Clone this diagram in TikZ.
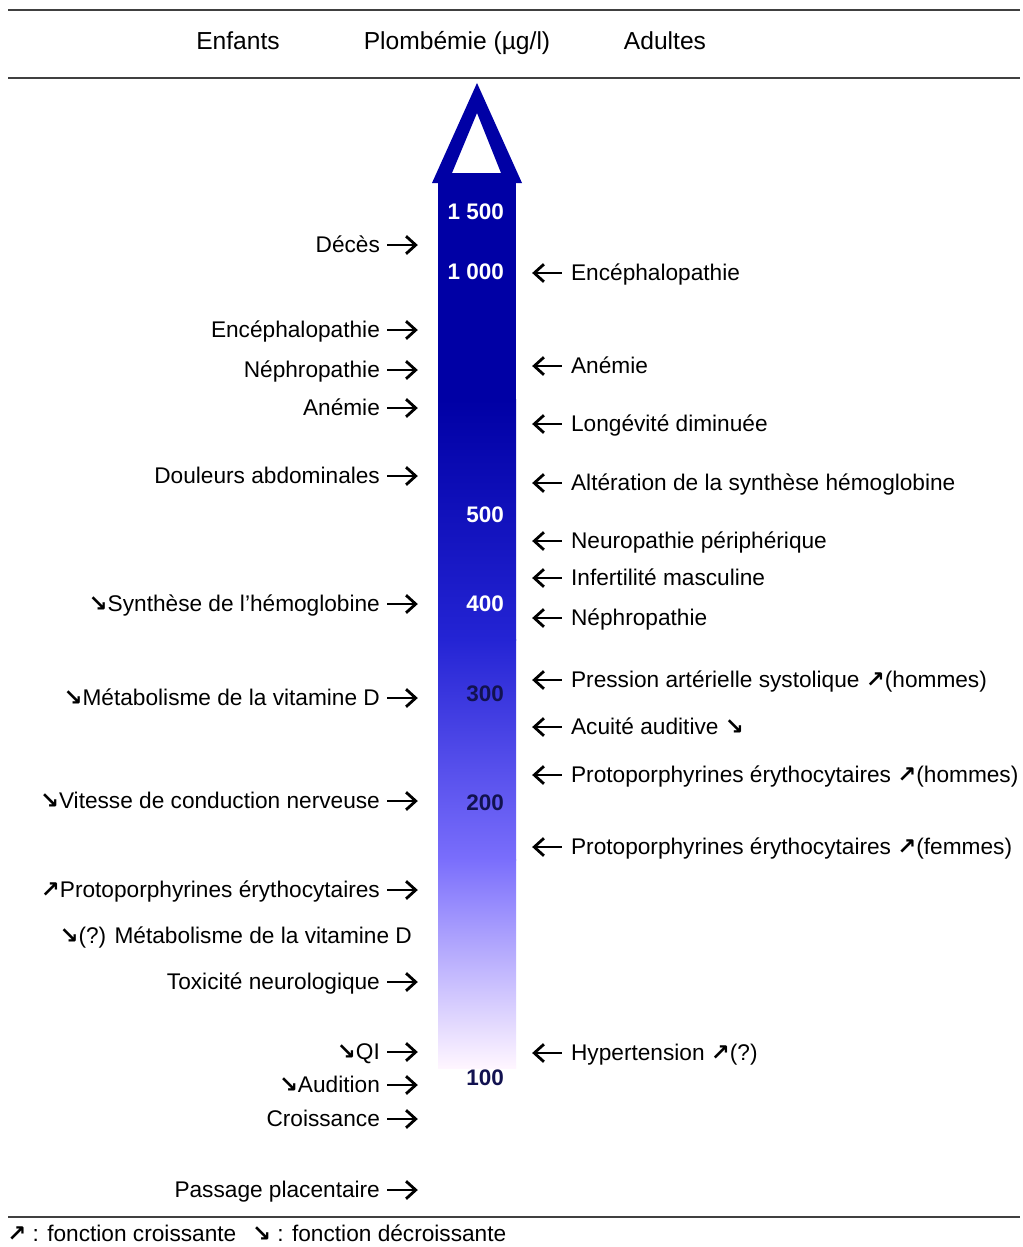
\documentclass[tikz,border=0pt]{standalone}
\usepackage{fontspec}
\setmainfont{Liberation Sans}
\newfontfamily\flechefont{DejaVu Sans}
\usepackage{tikz}
\usetikzlibrary{positioning,fit,arrows.meta}
\definecolor{plomb}{RGB}{0,0,165}
\definecolor{plombB}{RGB}{36,36,212}
\definecolor{plombC}{RGB}{122,110,252}
\definecolor{plombD}{RGB}{255,246,255}
\definecolor{chiffre}{RGB}{18,18,80}
\newcommand{\hausse}{{\flechefont\bfseries ↗}}
\newcommand{\baisse}{{\flechefont\bfseries ↘}}

\begin{document}
\begin{tikzpicture}[
  x=0.02cm, y=-0.02cm,
  every node/.style={font=\fontsize{12.9pt}{15pt}\selectfont, inner sep=1pt, text height=0.86em, text depth=0pt},
  gauche/.style={anchor=east},
  droite/.style={anchor=west},
  titre/.style={font=\fontsize{14pt}{16pt}\selectfont},
  val/.style={anchor=east, font=\fontsize{12.8pt}{15pt}\selectfont\bfseries},
  regle/.style={draw=black!75, line width=1.1pt},
  versg/.style={-{Straight Barb[length=5.5pt,width=10pt]}, line width=1.6pt, shorten <=3pt, shorten >=11.3pt},
  versd/.style={-{Straight Barb[length=5.5pt,width=10pt]}, line width=1.6pt, shorten <=4pt, shorten >=9pt},
]
\useasboundingbox (0,0) rectangle (1023,1247);
\fill[white] (0,0) rectangle (1023,1247);
% en-tete
\draw[regle] (8,10) -- (1020,10);
\draw[regle] (8,78) -- (1020,78);
\node[titre] (enfants) at (238,42) {Enfants};
\node[titre] (plombemie) at (457,42) {Plombémie (µg/l)};
\node[titre] (adultes) at (665,42) {Adultes};
% fleche centrale
\fill[plomb, even odd rule] (432,183) -- (477,83) -- (522,183) -- cycle
  (452,173) -- (477,113) -- (501,173) -- cycle;
\fill[plomb] (438,182) rectangle (516,400);
\shade[top color=plomb, bottom color=plombB] (438,399) rectangle (516,640);
\shade[top color=plombB, bottom color=plombC] (438,639) rectangle (516,860);
\shade[top color=plombC, bottom color=plombD] (438,859) rectangle (516,1068);
\path (438,183) coordinate (tigeH) (516,1065) coordinate (tigeB);
\node[fit=(tigeH)(tigeB), inner sep=0pt] (tige) {};
\node[val, text=white]   (v1500) at (506,212)  {1 500};
\node[val, text=white]   (v1000) at (506,272)  {1 000};
\node[val, text=white]   (v500)  at (506,515)  {500};
\node[val, text=white]   (v400)  at (506,604)  {400};
\node[val, text=chiffre] (v300)  at (506,694)  {300};
\node[val, text=chiffre] (v200)  at (506,803)  {200};
\node[val, text=chiffre] (v100)  at (506,1078) {100};
% enfants
\node[gauche] (g1) at (382,245) {Décès};
\draw[versg] (g1.east) -- (g1.east -| tige.west);
\node[gauche] (g2) at (382,330) {Encéphalopathie};
\draw[versg] (g2.east) -- (g2.east -| tige.west);
\node[gauche] (g3) at (382,370) {Néphropathie};
\draw[versg] (g3.east) -- (g3.east -| tige.west);
\node[gauche] (g4) at (382,408) {Anémie};
\draw[versg] (g4.east) -- (g4.east -| tige.west);
\node[gauche] (g5) at (382,476) {Douleurs abdominales};
\draw[versg] (g5.east) -- (g5.east -| tige.west);
\node[gauche] (g6) at (382,604) {\baisse Synthèse de l'hémoglobine};
\draw[versg] (g6.east) -- (g6.east -| tige.west);
\node[gauche] (g7) at (382,698) {\baisse Métabolisme de la vitamine D};
\draw[versg] (g7.east) -- (g7.east -| tige.west);
\node[gauche] (g8) at (382,801) {\baisse Vitesse de conduction nerveuse};
\draw[versg] (g8.east) -- (g8.east -| tige.west);
\node[gauche] (g9) at (382,890) {\hausse Protoporphyrines érythocytaires};
\draw[versg] (g9.east) -- (g9.east -| tige.west);
\node[gauche] (g10) at (414,936) {\baisse(?) Métabolisme de la vitamine D};
\node[gauche] (g11) at (382,982) {Toxicité neurologique};
\draw[versg] (g11.east) -- (g11.east -| tige.west);
\node[gauche] (g12) at (382,1052) {\baisse QI};
\draw[versg] (g12.east) -- (g12.east -| tige.west);
\node[gauche] (g13) at (382,1085) {\baisse Audition};
\draw[versg] (g13.east) -- (g13.east -| tige.west);
\node[gauche] (g14) at (382,1119) {Croissance};
\draw[versg] (g14.east) -- (g14.east -| tige.west);
\node[gauche] (g15) at (382,1190) {Passage placentaire};
\draw[versg] (g15.east) -- (g15.east -| tige.west);
% adultes
\node[droite] (d1) at (569,273) {Encéphalopathie};
\draw[versd] (d1.west) -- (d1.west -| tige.east);
\node[droite] (d2) at (569,366) {Anémie};
\draw[versd] (d2.west) -- (d2.west -| tige.east);
\node[droite] (d3) at (569,424) {Longévité diminuée};
\draw[versd] (d3.west) -- (d3.west -| tige.east);
\node[droite] (d4) at (569,483) {Altération de la synthèse hémoglobine};
\draw[versd] (d4.west) -- (d4.west -| tige.east);
\node[droite] (d5) at (569,541) {Neuropathie périphérique};
\draw[versd] (d5.west) -- (d5.west -| tige.east);
\node[droite] (d6) at (569,578) {Infertilité masculine};
\draw[versd] (d6.west) -- (d6.west -| tige.east);
\node[droite] (d7) at (569,618) {Néphropathie};
\draw[versd] (d7.west) -- (d7.west -| tige.east);
\node[droite] (d8) at (569,680) {Pression artérielle systolique \hausse(hommes)};
\draw[versd] (d8.west) -- (d8.west -| tige.east);
\node[droite] (d9) at (569,727) {Acuité auditive \baisse};
\draw[versd] (d9.west) -- (d9.west -| tige.east);
\node[droite] (d10) at (569,775) {Protoporphyrines érythocytaires \hausse(hommes)};
\draw[versd] (d10.west) -- (d10.west -| tige.east);
\node[droite] (d11) at (569,847) {Protoporphyrines érythocytaires \hausse(femmes)};
\draw[versd] (d11.west) -- (d11.west -| tige.east);
\node[droite] (d12) at (569,1053) {Hypertension \hausse(?)};
\draw[versd] (d12.west) -- (d12.west -| tige.east);
% legende
\draw[regle] (8,1217) -- (1020,1217);
\node[droite, inner sep=0pt, text height=0.72em] (legende) at (7,1235) {\hausse{} : fonction croissante\hspace{9pt}\baisse{} : fonction décroissante};
\end{tikzpicture}
\end{document}
